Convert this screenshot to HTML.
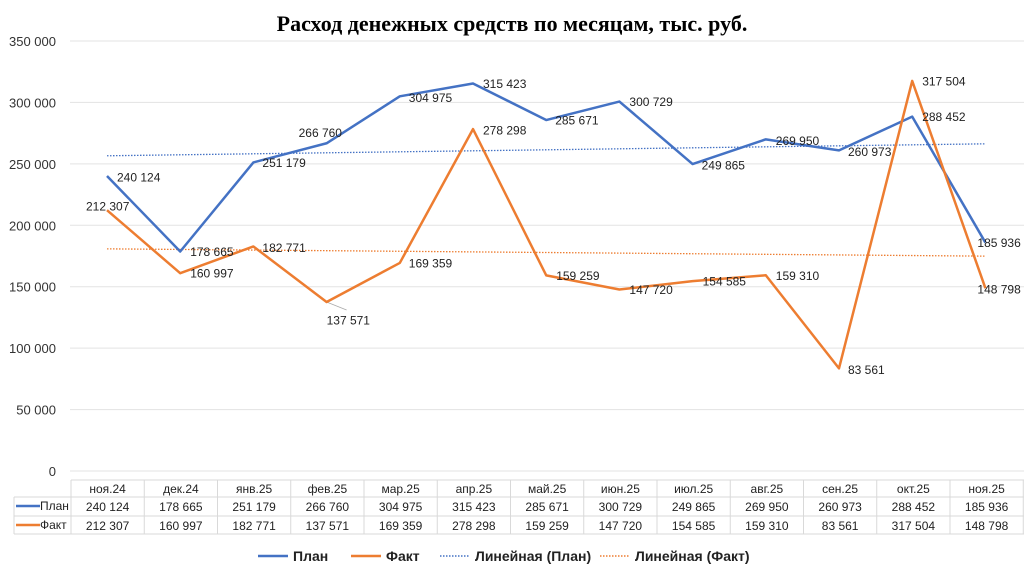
<!DOCTYPE html>
<html><head><meta charset="utf-8"><style>
body{margin:0;background:#fff;width:1024px;height:574px;overflow:hidden;font-family:"Liberation Sans",sans-serif}
svg text{font-family:"Liberation Sans",sans-serif}
</style></head><body>
<svg id="c" width="1024" height="574">
<text x="512" y="31" text-anchor="middle" font-family="Liberation Serif" font-weight="bold" font-size="22" fill="#000" style="font-family:'Liberation Serif',serif">Расход денежных средств по месяцам, тыс. руб.</text>
</svg>
<script>
const categories=["ноя.24","дек.24","янв.25","фев.25","мар.25","апр.25","май.25","июн.25","июл.25","авг.25","сен.25","окт.25","ноя.25"];
const plan=[240124,178665,251179,266760,304975,315423,285671,300729,249865,269950,260973,288452,185936];
const fact=[212307,160997,182771,137571,169359,278298,159259,147720,154585,159310,83561,317504,148798];
const yTicks=[0,50000,100000,150000,200000,250000,300000,350000];
const planLabelOff=[[10,1],[10,0],[9,0],[-28,-11],[9,1],[10,0],[9,0],[10,0],[9,1],[10,1],[9,1],[10,0],[-8,0]];
const factLabelOff=[[-21,-4],[10,0],[9,1],[0,18],[9,0],[10,1],[10,0],[10,0],[10,0],[10,0],[9,1],[10,0],[-8,1]];
const svg=document.getElementById('c');const NS='http://www.w3.org/2000/svg';
const x0=107,step=73.2,yb=471,yt=41,x=i=>x0+i*step,y=v=>yb-(v/350000)*(yb-yt);
const fmt=v=>String(v).replace(/\B(?=(\d{3})+(?!\d))/g,' ');
function el(t,a,txt){const e=document.createElementNS(NS,t);for(const k in a)e.setAttribute(k,a[k]);if(txt!=null)e.textContent=txt;svg.appendChild(e);return e;}
yTicks.forEach(v=>{const t=el('text',{x:56,y:y(v)+5,'text-anchor':'end','font-size':13,fill:'#333'},fmt(v));


const g=el('line',{x1:70,x2:1024,y1:y(v),y2:y(v),stroke:'#e3e3e3'});

});
function trend(d){const n=d.length;let sx=0,sy=0,sxy=0,sxx=0;d.forEach((v,i)=>{sx+=i;sy+=v;sxy+=i*v;sxx+=i*i});const b=(n*sxy-sx*sy)/(n*sxx-sx*sx);const a=(sy-b*sx)/n;return [a,a+b*(n-1)];}
[[plan,'#4472c4','plan'],[fact,'#ed7d31','fact']].forEach(([d,c,nm])=>{
 const tr=trend(d);const l=el('line',{x1:x(0),x2:x(d.length-1),y1:y(tr[0]),y2:y(tr[1]),stroke:c,'stroke-width':1.3,'stroke-dasharray':'1.5,1.5'});
 
 
});
const ld=el('line',{x1:x(3),y1:y(fact[3]),x2:x(3)+20,y2:y(fact[3])+8,stroke:'#aaa','stroke-width':0.8});


[[plan,'#4472c4','plan',planLabelOff],[fact,'#ed7d31','fact',factLabelOff]].forEach(([d,c,nm,off])=>{
 const p=el('polyline',{points:d.map((v,i)=>x(i)+','+y(v)).join(' '),fill:'none',stroke:c,'stroke-width':2.5,'stroke-linejoin':'round'});
 
 
});
[[plan,'plan',planLabelOff],[fact,'fact',factLabelOff]].forEach(([d,nm,off])=>{
 d.forEach((v,i)=>{const t=el('text',{x:x(i)+off[i][0],y:y(v)+off[i][1]+4.5,'font-size':12,fill:'#222'},fmt(v));
 
 });
});
// table
const tl=71,tw=73.25,rows=[480,497,516,534];
rows.forEach((ry,k)=>{const l=el('line',{x1:k==0?tl:14,x2:1024,y1:ry,y2:ry,stroke:'#d9d9d9'});});
for(let i=0;i<=13;i++){const l=el('line',{x1:tl+i*tw,x2:tl+i*tw,y1:480,y2:534,stroke:'#d9d9d9'});}
const lb=el('line',{x1:14,x2:14,y1:497,y2:534,stroke:'#d9d9d9'});
categories.forEach((cat,i)=>{const cx=tl+i*tw+tw/2;
 const t=el('text',{x:cx,y:493,'text-anchor':'middle','font-size':12,fill:'#222'},cat);
 const a=el('text',{x:cx,y:511,'text-anchor':'middle','font-size':12,fill:'#222'},fmt(plan[i]));
 const b=el('text',{x:cx,y:530,'text-anchor':'middle','font-size':12,fill:'#222'},fmt(fact[i]));});
[['План','#4472c4',506],['Факт','#ed7d31',525]].forEach(([n,c,ry])=>{
 const l=el('line',{x1:16,x2:40,y1:ry,y2:ry,stroke:c,'stroke-width':2.5});
 const t=el('text',{x:40,y:ry+4,'font-size':12,fill:'#222'},n);});
// legend
[['План','#4472c4',258,0],['Факт','#ed7d31',351,0],['Линейная (План)','#4472c4',440,1],['Линейная (Факт)','#ed7d31',600,1]].forEach(([n,c,lx,dot])=>{
 const a={x1:lx,x2:lx+30,y1:556,y2:556,stroke:c,'stroke-width':dot?1.5:2.5};if(dot)a['stroke-dasharray']='1.5,1.5';
 const l=el('line',a);
 const t=el('text',{x:lx+35,y:561,'font-size':14,'font-weight':'bold',fill:'#222'},n);});
</script>
</body></html>
